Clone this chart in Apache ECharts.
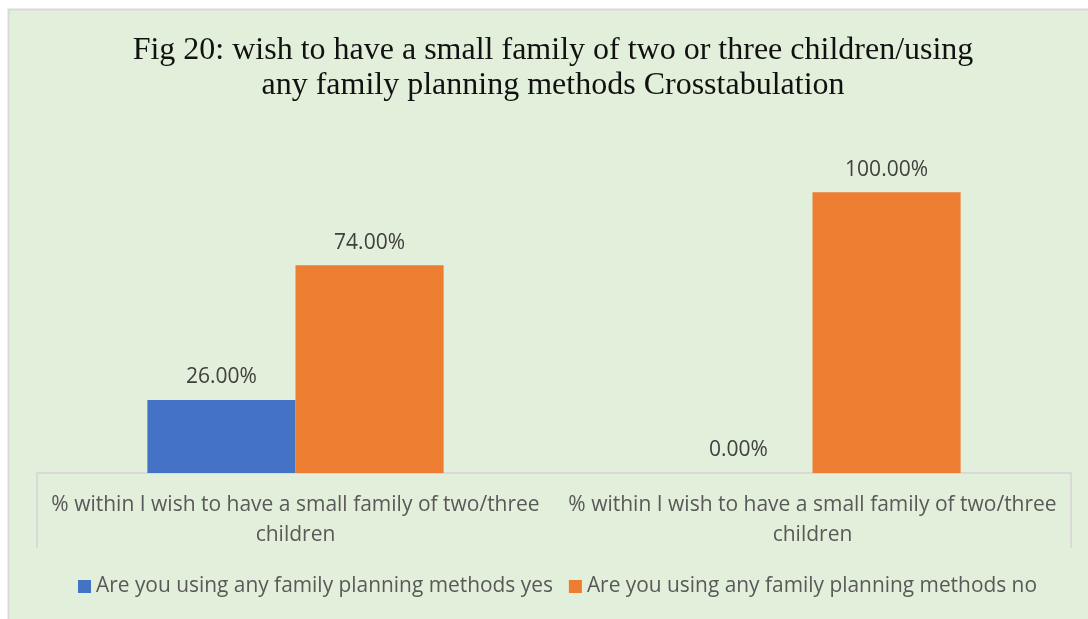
<!DOCTYPE html>
<html>
<head>
<meta charset="utf-8">
<script src="https://cdn.jsdelivr.net/npm/echarts@6/dist/echarts.min.js"></script>
<style>
  html, body { margin: 0; padding: 0; background: #ffffff; }
  #chart { width: 1088px; height: 619px; }
</style>
</head>
<body>
<div id="chart"></div>
<script>
// Crosstabulation: wish for a small family vs. use of family planning methods
const titleLines = [
  'Fig 20: wish to have a small family of two or three children/using',
  'any family planning methods Crosstabulation'
];
const categories = [
  '% within I wish to have a small family of two/three\nchildren',
  '% within I wish to have a small family of two/three\nchildren'
];
const seriesNames = [
  'Are you using any family planning methods yes',
  'Are you using any family planning methods no'
];
const usingYes = [26.0, 0.0];
const usingNo = [74.0, 100.0];
const seriesColors = ['#4472C4', '#ED7D31'];

const chart = echarts.init(document.getElementById('chart'), null, { renderer: 'canvas' });

const labelStyle = {
  show: true,
  position: 'top',
  distance: 12,
  fontFamily: 'Open Sans',
  fontSize: 21,
  color: '#404040',
  formatter: p => p.value.toFixed(2) + '%'
};

chart.setOption({
  backgroundColor: '#ffffff',
  animation: false,
  graphic: [{
    type: 'rect',
    z: -10,
    silent: true,
    shape: { x: 8.5, y: 9.5, width: 1100, height: 630 },
    style: { fill: '#E2EFDA', stroke: '#D9D9D9', lineWidth: 2 }
  }],
  title: {
    text: titleLines.join('\n'),
    left: 553,
    top: 33,
    textAlign: 'center',
    padding: 0,
    textStyle: {
      fontFamily: 'Liberation Serif',
      fontWeight: 'normal',
      fontSize: 32,
      lineHeight: 35,
      color: '#111111'
    }
  },
  legend: {
    left: 78,
    top: 576,
    padding: 0,
    itemWidth: 13,
    itemHeight: 13,
    itemGap: 16,
    icon: 'rect',
    textStyle: { fontFamily: 'Open Sans', fontSize: 20.9, color: '#595959' },
    data: seriesNames
  },
  grid: { left: 37, right: 17, top: 136, bottom: 146, containLabel: false },
  xAxis: {
    type: 'category',
    data: categories,
    axisLine: { show: true, lineStyle: { color: '#D9D9D9', width: 2 } },
    // only the outer boundary ticks, no divider between the two groups
    axisTick: { show: true, interval: i => i === 0, length: 75, lineStyle: { color: '#D9D9D9', width: 2 } },
    axisLabel: {
      interval: 0,
      margin: 17,
      fontFamily: 'Open Sans',
      fontSize: 21,
      lineHeight: 30,
      color: '#595959',
      align: 'center'
    }
  },
  yAxis: {
    type: 'value',
    min: 0,
    max: 120,
    show: false,
    splitLine: { show: false }
  },
  series: [
    {
      name: seriesNames[0],
      type: 'bar',
      data: usingYes,
      barGap: '0%',
      barCategoryGap: '42.7%',
      itemStyle: { color: seriesColors[0] },
      label: labelStyle
    },
    {
      name: seriesNames[1],
      type: 'bar',
      data: usingNo,
      barGap: '0%',
      barCategoryGap: '42.7%',
      itemStyle: { color: seriesColors[1] },
      label: labelStyle
    }
  ]
});
</script>
</body>
</html>
